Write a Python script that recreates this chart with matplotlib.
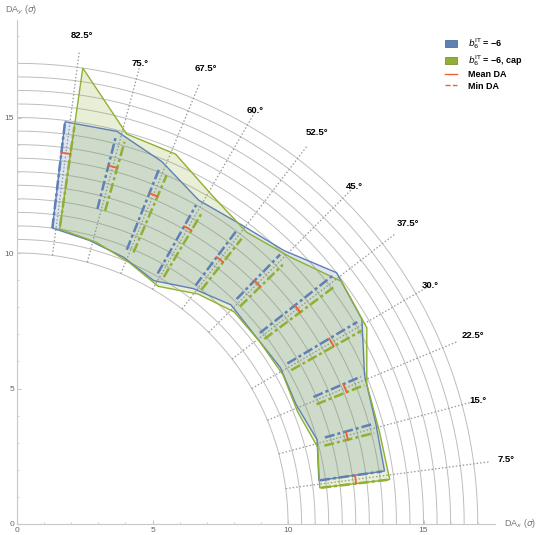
import numpy as np
import matplotlib
matplotlib.use("Agg")
import matplotlib.pyplot as plt
from matplotlib.patches import Polygon, Patch
from matplotlib.lines import Line2D

plt.rcParams['font.family'] = ['Liberation Sans', 'DejaVu Sans']

# scan angles (deg) and DA values (sigma)
angles = [7.5, 15, 22.5, 30, 37.5, 45, 52.5, 60, 67.5, 75, 82.5]
angle_labels = ["7.5°", "15.°", "22.5°", "30.°", "37.5°", "45.°",
                "52.5°", "60.°", "67.5°", "75.°", "82.5°"]

blue_min = [11.25, 11.5, 11.2, 11.3, 11.2, 11.3, 10.85, 10.3, 10.6, 10.8, 11.0]
blue_max = [13.7, 13.75, 13.95, 14.8, 15.0, 14.1, 13.8, 13.7, 14.4, 14.95, 14.95]
green_min = [11.25, 11.45, 11.15, 11.25, 11.2, 11.2, 10.8, 10.2, 10.5, 10.8, 11.0]
green_max = [13.85, 13.8, 13.9, 14.8, 14.95, 14.1, 13.7, 14.1, 14.85, 14.95, 17.0]

# range covered by the individual seeds
blue_lo = [11.3, 11.8, 11.9, 11.6, 11.4, 11.6, 11.0, 10.6, 10.9, 12.0, 11.0]
blue_hi = [13.6, 13.6, 13.8, 14.6, 14.8, 13.9, 13.5, 13.5, 14.15, 14.75, 14.9]
green_lo = [11.3, 11.7, 11.9, 11.6, 11.4, 11.5, 11.0, 10.6, 10.9, 12.0, 11.1]
green_hi = [13.8, 13.6, 13.8, 14.6, 14.6, 13.7, 13.4, 13.4, 14.0, 14.65, 14.8]

mean_da = [12.6, 12.6, 13.1, 13.4, 13.05, 12.55, 12.3, 12.6, 13.15, 13.65, 13.8]

blue = "#5E81B5"
green = "#8FB032"
red = "#EB6235"
grid_c = "#bdbdbd"


def xy(r, a_deg):
    a = np.radians(a_deg)
    return np.asarray(r) * np.cos(a), np.asarray(r) * np.sin(a)


fig = plt.figure(figsize=(5.57, 5.35), dpi=100)
ax = fig.add_axes([0.0305, 0.0206, 0.859, 0.942])
ax.set_xlim(0, 17.65)
ax.set_ylim(0, 18.6)
ax.set_aspect("equal", adjustable="box")

# polar grid
t = np.linspace(0, 90, 300)
for r in np.arange(10, 17.01, 0.5):
    gx, gy = xy(r, t)
    ax.plot(gx, gy, color=grid_c, lw=0.7, zorder=1)
for a, lab in zip(angles, angle_labels):
    gx, gy = xy([10, 17.6], a)
    ax.plot(gx, gy, color="#999999", lw=0.9, ls=(0, (1.2, 1.6)), zorder=1)
    lr = 18.2 if ".5" in lab else 17.6
    lx, ly = xy(lr, a)
    ax.text(lx, ly, lab, fontsize=6.8, fontweight="bold", ha="center",
            va="center", zorder=5)

off = 0.7
ang = np.array(angles)
for col, mn, mx, d in [(blue, blue_min, blue_max, off), (green, green_min, green_max, -off)]:
    ix, iy = xy(mn, ang + d)
    ox, oy = xy(mx, ang + d)
    px = np.concatenate([ix, ox[::-1]])
    py = np.concatenate([iy, oy[::-1]])
    ax.add_patch(Polygon(np.column_stack([px, py]), closed=True,
                         facecolor=col, alpha=0.2, edgecolor="none", zorder=2))
    ax.add_patch(Polygon(np.column_stack([px, py]), closed=True,
                         facecolor="none", edgecolor=col, lw=1.0, zorder=3))

for a, bl, bh, gl, gh, m in zip(angles, blue_lo, blue_hi, green_lo, green_hi, mean_da):
    bx, by = xy([bl, bh], a + off)
    ax.plot(bx, by, color=blue, lw=1.8, ls=(0, (4, 1.2, 1.2, 1.2)), zorder=4)
    gx, gy = xy([gl, gh], a - off)
    ax.plot(gx, gy, color=green, lw=1.8, ls=(0, (4, 1.2, 1.2, 1.2)), zorder=4)
    mx_, my_ = xy(m, np.linspace(a - off, a + off, 5))
    ax.plot(mx_, my_, color=red, lw=1.3, zorder=5)

# axes styling
for s in ["top", "right"]:
    ax.spines[s].set_visible(False)
for s in ["left", "bottom"]:
    ax.spines[s].set_color("#c8c8c8")
    ax.spines[s].set_linewidth(0.8)
ax.set_xticks([0, 5, 10, 15])
ax.set_yticks([0, 5, 10, 15])
ax.set_xticks(np.arange(0, 17.6, 1), minor=True)
ax.set_yticks(np.arange(0, 18.6, 1), minor=True)
ax.tick_params(which="both", direction="in", colors="#c8c8c8",
               labelcolor="#666666", labelsize=6, length=3, pad=2)
ax.tick_params(which="minor", length=1.5)

fig.text(0.009, 0.976, r"DA$_y$ ($\sigma$)", fontsize=6.5, color="#777777")
fig.text(0.905, 0.017, r"DA$_x$ ($\sigma$)", fontsize=6.5, color="#777777")

handles = [Patch(facecolor=blue, edgecolor="#3f5f90", lw=0.5),
           Patch(facecolor=green, edgecolor="#6a8520", lw=0.5),
           Line2D([], [], color=red, lw=1),
           Line2D([], [], color=red, lw=1, ls="--")]
labels = [r"$b_6^{\rm IT}$ = −6", r"$b_6^{\rm IT}$ = −6, cap", "Mean DA", "Min DA"]
leg = fig.legend(handles, labels, loc="upper left", bbox_to_anchor=(0.785, 0.948),
                 frameon=False, handlelength=1.3, handleheight=0.9,
                 labelspacing=0.25, handletextpad=1.2,
                 prop={"weight": "bold", "size": 6.5})

fig.savefig("out.png", dpi=100)
